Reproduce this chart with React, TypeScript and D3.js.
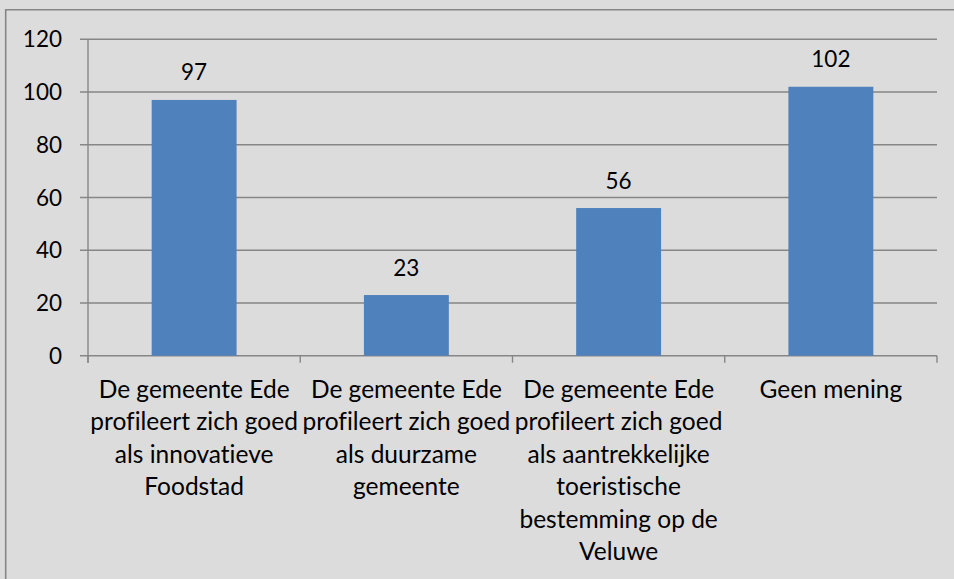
import React from "react";
import * as d3 from "d3";

const categories: string[][] = [
  ["De gemeente Ede", "profileert zich goed", "als innovatieve", "Foodstad"],
  ["De gemeente Ede", "profileert zich goed", "als duurzame", "gemeente"],
  ["De gemeente Ede", "profileert zich goed", "als aantrekkelijke", "toeristische", "bestemming op de", "Veluwe"],
  ["Geen mening"],
];
const values: number[] = [97, 23, 56, 102];
const yTicks: number[] = [0, 20, 40, 60, 80, 100, 120];

const W = 954;
const H = 579;
const left = 88;
const right = 937;
const top = 39.3;
const bottom = 355.7;
const font = "Lato, 'Open Sans', sans-serif";
const grid = "#868686";
const txtStyle = { fontVariantLigatures: "none" as const };

export default function App() {
  const x = d3.scaleBand<number>().domain(d3.range(values.length)).range([left, right]).paddingInner(0.6).paddingOuter(0.3);
  const band = d3.scaleBand<number>().domain(d3.range(values.length)).range([left, right]);
  const y = d3.scaleLinear().domain([0, 120]).range([bottom, top]);
  return (
    <svg width={W} height={H} style={{ position: "absolute", left: 0, top: 0, background: "#dcdcdc" }}>
      <rect x={0} y={0} width={W} height={H} fill="#dcdcdc" />
      <line x1={5.7} x2={5.7} y1={9} y2={H} stroke={grid} strokeWidth={1.6} />
      <line x1={5} x2={W} y1={9.7} y2={9.7} stroke={grid} strokeWidth={1.6} />
      {yTicks.map((t) => (
        <g key={t}>
          <line x1={80} x2={right} y1={y(t)} y2={y(t)} stroke={grid} strokeWidth={1.4} />
          <text x={62} y={y(t) + 8} textAnchor="end" fontFamily={font} fontSize={22.5} fill="#000" style={txtStyle}>
            {t}
          </text>
        </g>
      ))}
      <line x1={left} x2={left} y1={top} y2={bottom + 7} stroke={grid} strokeWidth={1.4} />
      {d3.range(values.length + 1).map((i) => {
        const xx = i < values.length ? band(i)! : right;
        return <line key={i} x1={xx} x2={xx} y1={bottom} y2={bottom + 7} stroke={grid} strokeWidth={1.4} />;
      })}
      {values.map((v, i) => (
        <g key={i}>
          <rect x={x(i)!} y={y(v)} width={x.bandwidth()} height={bottom - y(v)} fill="#4f81bd" />
          <text x={x(i)! + x.bandwidth() / 2} y={y(v) - 19.5} textAnchor="middle" fontFamily={font} fontSize={22.5} fill="#000" style={txtStyle}>
            {v}
          </text>
        </g>
      ))}
      {categories.map((lines, i) => (
        <text key={i} textAnchor="middle" fontFamily={font} fontSize={24.5} fill="#000" style={txtStyle}>
          {lines.map((l, j) => (
            <tspan key={j} x={band(i)! + band.bandwidth() / 2} y={398 + j * 32.4}>
              {l}
            </tspan>
          ))}
        </text>
      ))}
    </svg>
  );
}
